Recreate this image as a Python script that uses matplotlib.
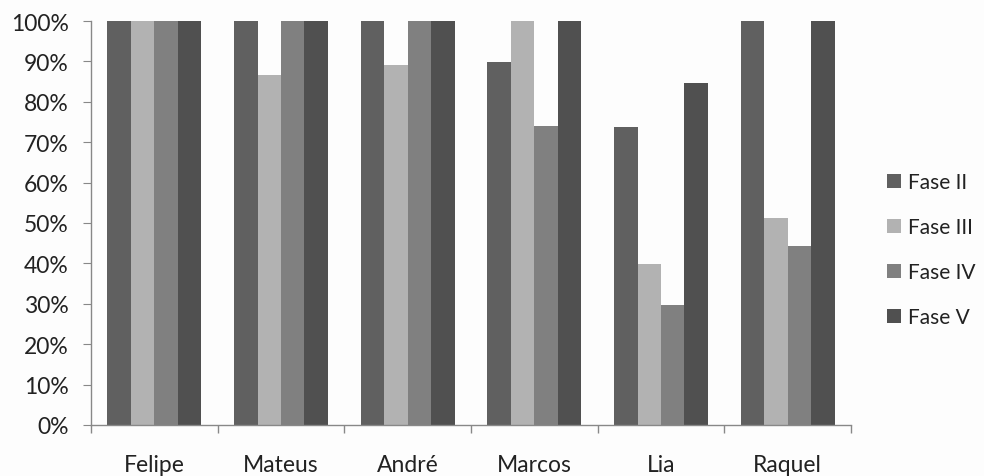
import matplotlib
matplotlib.use("Agg")
import matplotlib.pyplot as plt
import numpy as np
from matplotlib.ticker import FuncFormatter, FixedLocator

categories = ["Felipe", "Mateus", "André", "Marcos", "Lia", "Raquel"]
series_names = ["Fase II", "Fase III", "Fase IV", "Fase V"]
fase_ii = [100, 100, 100, 89.8, 73.7, 100]
fase_iii = [100, 86.6, 89.0, 100, 39.9, 51.2]
fase_iv = [100, 100, 100, 74.0, 29.8, 44.4]
fase_v = [100, 100, 100, 100, 84.6, 100]
colors = ["#606060", "#b2b2b2", "#808080", "#505050"]

plt.rcParams['font.family'] = ['Lato', 'DejaVu Sans']

fig = plt.figure(figsize=(9.84, 4.77), dpi=100)
fig.patch.set_facecolor("#fdfdfd")
ax = fig.add_axes([91/984, 1-426/477, (851-91)/984, (426-22)/477])
ax.set_facecolor("#fdfdfd")

x = np.arange(len(categories))
w = 0.185
data = [fase_ii, fase_iii, fase_iv, fase_v]
for i, (vals, name, c) in enumerate(zip(data, series_names, colors)):
    ax.bar(x + (i - 1.5) * w, vals, width=w, color=c, label=name, linewidth=0)

ax.set_xlim(-0.5, len(categories) - 0.5)
ax.set_ylim(0, 100)
ax.set_yticks(np.arange(0, 101, 10))
ax.yaxis.set_major_formatter(FuncFormatter(lambda v, p: f"{int(v)}%"))
ax.set_xticks(x)
ax.set_xticklabels(categories)
ax.xaxis.set_minor_locator(FixedLocator(np.arange(-0.5, len(categories), 1.0)))
ax.tick_params(axis='x', which='major', length=0, pad=21, labelsize=16.5, colors="#222222")
ax.tick_params(axis='x', which='minor', length=6, color="#888888", width=1)
ax.tick_params(axis='y', which='major', length=6, color="#888888", labelsize=16.5,
               labelcolor="#222222", pad=10)
for s in ["top", "right"]:
    ax.spines[s].set_visible(False)
for s in ["left", "bottom"]:
    ax.spines[s].set_color("#888888")
    ax.spines[s].set_linewidth(1)

leg = fig.legend(loc='center left', bbox_to_anchor=(887/984, 1-250.5/477), frameon=False,
                 fontsize=15, handlelength=0.65, handleheight=0.65, labelspacing=1.2,
                 handletextpad=0.36, borderpad=0, borderaxespad=0)
for t in leg.get_texts():
    t.set_color("#222222")

fig.savefig("out.png", dpi=100, facecolor=fig.get_facecolor())
